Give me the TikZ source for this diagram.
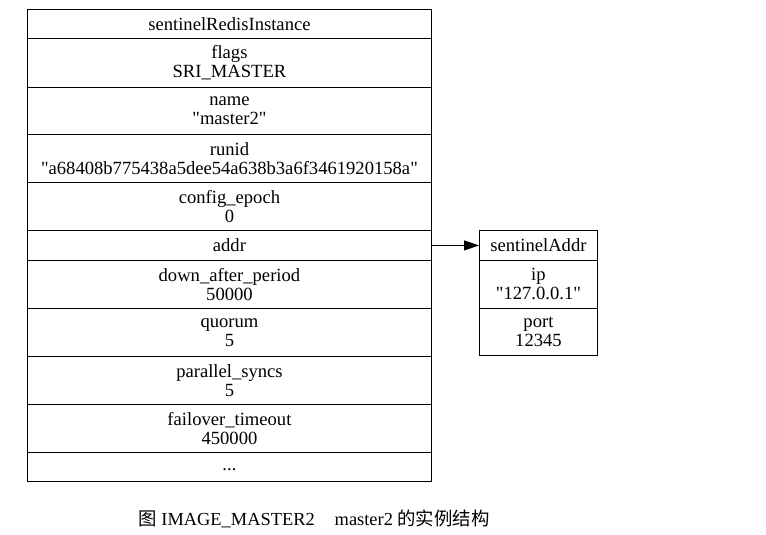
\documentclass[tikz,border=0pt]{standalone}
\usepackage{fontspec}
\setmainfont{Liberation Serif}[Ligatures=TeXOff]
\newfontfamily\cjk{Noto Sans CJK SC}
\usetikzlibrary{arrows.meta}
\newcommand\dq{\symbol{34}}
\tikzset{
  cell/.style={draw=black, line width=0.9pt, anchor=north west, inner sep=0pt, align=center,
    font=\fontsize{18.6}{19}\selectfont},
  bigcell/.style={cell, minimum width=404pt},
  smallcell/.style={cell, minimum width=118pt},
  link/.style={line width=0.9pt, -{Triangle[length=15pt,width=10pt]}},
  caption/.style={inner sep=0pt, font=\fontsize{18.4}{20}\selectfont}
}
\begin{document}
\begin{tikzpicture}[x=1pt,y=-1pt]
\useasboundingbox (0,0) rectangle (766,535);
\node[bigcell, minimum height=29pt] (r0) at (27,9) {sentinelRedisInstance};
\node[bigcell, minimum height=49pt] (r1) at (27,38) {flags\\SRI\_MASTER};
\node[bigcell, minimum height=47pt] (r2) at (27,87) {name\\ \dq master2\dq};
\node[bigcell, minimum height=48pt] (r3) at (27,134) {runid\\ \dq a68408b775438a5dee54a638b3a6f3461920158a\dq};
\node[bigcell, minimum height=48pt] (r4) at (27,182) {config\_epoch\\0};
\node[bigcell, minimum height=30pt] (r5) at (27,230) {addr};
\node[bigcell, minimum height=48pt] (r6) at (27,260) {down\_after\_period\\50000};
\node[bigcell, minimum height=48pt] (r7) at (27,308) {quorum\\5};
\node[bigcell, minimum height=48pt] (r8) at (27,356) {parallel\_syncs\\5};
\node[bigcell, minimum height=48pt] (r9) at (27,404) {failover\_timeout\\450000};
\node[bigcell, minimum height=29pt] (r10) at (27,452) {\raisebox{-4pt}[0pt][0pt]{...}};
\node[smallcell, minimum height=30pt] (a0) at (479,230) {sentinelAddr};
\node[smallcell, minimum height=48pt] (a1) at (479,260) {ip\\ \dq 127.0.0.1\dq};
\node[smallcell, minimum height=47pt] (a2) at (479,308) {port\\ 12345};
\draw[link] (r5.east) -- (a0.west);
\node[caption] (cap) at (314,519) {{\cjk 图} IMAGE\_MASTER2\hspace{20pt}master2 {\cjk 的实例结构}};
\end{tikzpicture}
\end{document}
